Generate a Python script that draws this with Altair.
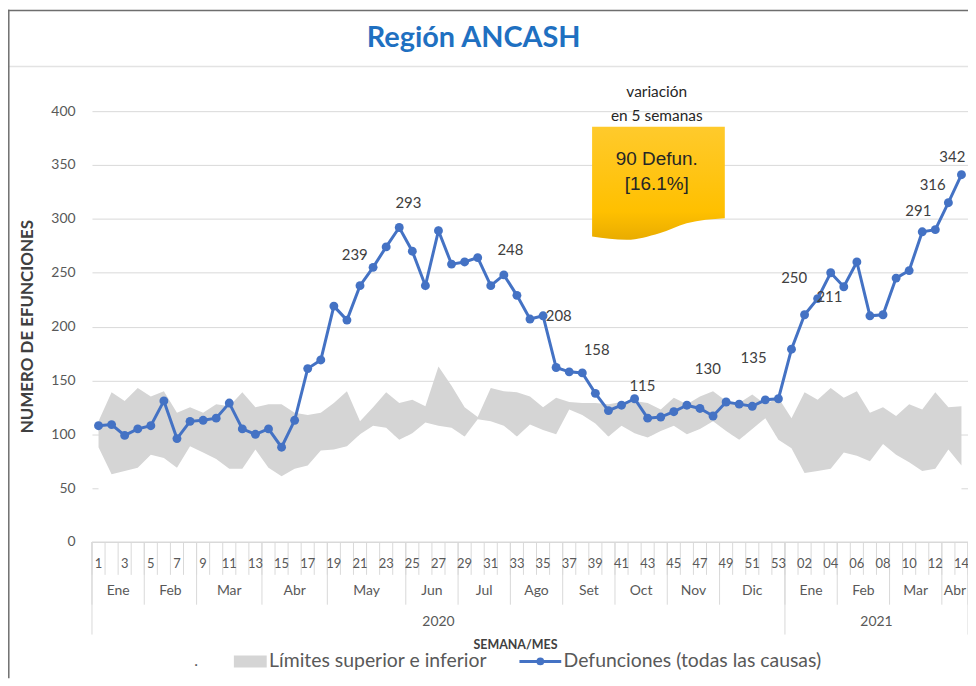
import altair as alt
import pandas as pd

# ---------------- data ----------------
weeks_2020 = list(range(1, 54))
weeks_2021 = list(range(1, 15))

deaths = [108, 109, 99, 105, 108, 131, 96, 112, 113, 115, 129, 105, 100, 105, 88, 113,
          161, 169, 219, 206, 238, 255, 274, 292, 270, 238, 289, 258, 260, 264, 238, 248,
          229, 207, 210, 162, 158, 157, 138, 122, 127, 133, 115, 116, 121, 127, 124, 117,
          130, 128, 126, 132, 133,
          179, 211, 226, 250, 237, 260, 210, 211, 245, 252, 288, 290, 315, 341]

upper = [112, 139, 131, 143, 135, 140, 120, 125, 120, 128, 126, 139, 125, 128, 128, 120,
         118, 120, 129, 140, 112, 125, 139, 129, 132, 126, 163, 145, 125, 116, 143, 140,
         139, 135, 125, 134, 130, 129, 129, 128, 130, 131, 129, 123, 134, 128, 135, 140,
         131, 129, 137, 128, 134,
         115, 139, 132, 143, 134, 140, 120, 125, 117, 128, 123, 139, 125, 126]

lower = [88, 63, 66, 69, 81, 78, 69, 89, 83, 77, 68, 68, 86, 69, 61, 68,
         71, 85, 86, 89, 100, 108, 106, 95, 101, 111, 108, 106, 98, 114, 112, 108,
         98, 109, 104, 100, 123, 118, 110, 98, 108, 101, 97, 103, 108, 100, 105, 112,
         103, 95, 105, 115, 95,
         87, 64, 66, 68, 83, 80, 75, 91, 81, 74, 66, 68, 86, 71]

month_names = ["Ene", "Feb", "Mar", "Abr", "May", "Jun", "Jul", "Ago", "Set", "Oct",
               "Nov", "Dic", "Ene", "Feb", "Mar", "Abr"]
month_weeks = [4, 4, 5, 5, 6, 4, 4, 4, 4, 4, 4, 5, 4, 4, 4, 2]
year_names = ["2020", "2021"]
year_weeks = [53, 14]

label_text = ["239", "293", "248", "208", "158", "115", "130", "135", "250", "211",
              "291", "316", "342"]
label_idx = [20.6, 24.7, 32.5, 36.2, 39.1, 42.6, 47.6, 51.1, 54.2, 56.9, 63.7, 64.8, 66.3]
label_val = [266.7, 314.8, 271.3, 210, 177.8, 145, 161, 171, 245, 227.8, 307.4, 331.5, 357.4]

callout_idx = [38.75, 41.4, 43.9, 45.98, 48.9]
callout_bottom = [283.6, 280.6, 286.7, 296, 300.6]
callout_top = 385.5
callout_lines = ["90 Defun.", "[16.1%]"]
callout_line_val = [355.5, 332]
callout_center_idx = 43.7

# ---------------- layout ----------------
W, H = 880.4, 433
BLUE = "#4472C4"
GRAY_TXT = "#595959"
DARK_TXT = "#404040"
FONT = "Lato"

n = len(deaths)
idx = list(range(1, n + 1))
week_lab = [str(w) for w in weeks_2020] + [f"{w:02d}" for w in weeks_2021]

df = pd.DataFrame({"idx": idx, "deaths": deaths, "upper": upper, "lower": lower,
                   "wk": week_lab})

xs = alt.Scale(domain=[0.5, n + 0.5], nice=False, zero=False)
ys = alt.Scale(domain=[0, 400], nice=False)
X = alt.X("idx:Q", scale=xs, axis=None)

base = alt.Chart(df)

white = base.mark_area(color="white", opacity=1).encode(
    x=X,
    y=alt.Y("lower:Q", scale=ys,
            axis=alt.Axis(values=list(range(0, 401, 50)), title="", domain=False,
                          ticks=False, labelPadding=17, labelFontSize=14,
                          labelColor=GRAY_TXT, labelFont=FONT, gridColor="#D9D9D9",
                          gridWidth=1)),
)
band = base.mark_area(color="#D5D5D5", opacity=1).encode(
    x=X, y=alt.Y("lower:Q", scale=ys), y2="upper:Q")
line = base.mark_line(color=BLUE, strokeWidth=3).encode(
    x=X, y=alt.Y("deaths:Q", scale=ys))
pts = base.mark_circle(color=BLUE, size=80, opacity=1).encode(
    x=X, y=alt.Y("deaths:Q", scale=ys))

labels_df = pd.DataFrame({"t": label_text, "i": label_idx, "v": label_val})
dlabels = alt.Chart(labels_df).mark_text(font=FONT, fontSize=15, color=DARK_TXT,
                                         baseline="middle").encode(
    x=alt.X("i:Q", scale=xs), y=alt.Y("v:Q", scale=ys), text="t:N")

# callout
cdf = pd.DataFrame({"i": callout_idx, "b": callout_bottom, "t": [callout_top] * len(callout_idx)})
grad = alt.Gradient(gradient="linear",
                    stops=[alt.GradientStop(color="#FFCA2C", offset=0),
                           alt.GradientStop(color="#FFC000", offset=0.75),
                           alt.GradientStop(color="#E9AC00", offset=1)],
                    x1=0, x2=0, y1=0, y2=1)
callout = alt.Chart(cdf).mark_area(color=grad, interpolate="monotone", opacity=1).encode(
    x=alt.X("i:Q", scale=xs), y=alt.Y("t:Q", scale=ys), y2="b:Q")
ctext_df = pd.DataFrame({"t": callout_lines, "v": callout_line_val,
                         "i": [callout_center_idx] * 2})
ctext = alt.Chart(ctext_df).mark_text(font="Liberation Sans", fontSize=19, color="#262626",
                                      baseline="middle").encode(
    x=alt.X("i:Q", scale=xs), y=alt.Y("v:Q", scale=ys), text="t:N")


def ptext(txt, px, py, size=14, color=DARK_TXT, weight="normal", align="center",
          font=FONT, angle=0):
    return alt.Chart(pd.DataFrame({"t": [txt]})).mark_text(
        font=font, fontSize=size, color=color, fontWeight=weight, align=align,
        baseline="middle", angle=angle).encode(
        x=alt.value(px), y=alt.value(py), text="t:N")


var1 = ptext("variación", 567.6, -19.5, size=15.5, color="#262626")
var2 = ptext("en 5 semanas", 567.6, 5, size=15.5, color="#262626")

# custom multi-level x axis
wk_df = df[df["idx"] % 2 == 1]
wk_text = alt.Chart(wk_df).mark_text(font=FONT, fontSize=13, color=GRAY_TXT,
                                     baseline="middle").encode(
    x=alt.X("idx:Q", scale=xs), y=alt.value(455), text="wk:N")

bounds = [k + 0.5 for k in range(0, n + 1)]
minor = alt.Chart(pd.DataFrame({"b": bounds})).mark_rule(color="#D9D9D9", strokeWidth=1).encode(
    x=alt.X("b:Q", scale=xs), y=alt.value(H), y2=alt.value(H + 33))

m_start, m_center, acc = [], [], 0
for w in month_weeks:
    m_start.append(acc + 0.5)
    m_center.append(acc + 0.5 + w / 2)
    acc += w
m_start.append(acc + 0.5)
mrules = alt.Chart(pd.DataFrame({"b": m_start})).mark_rule(color="#D9D9D9", strokeWidth=1).encode(
    x=alt.X("b:Q", scale=xs), y=alt.value(H), y2=alt.value(H + 63))
mtext = alt.Chart(pd.DataFrame({"m": month_names, "c": m_center})).mark_text(
    font=FONT, fontSize=14, color=GRAY_TXT, baseline="middle").encode(
    x=alt.X("c:Q", scale=xs), y=alt.value(482), text="m:N")

y_start, y_center, acc = [], [], 0
for w in year_weeks:
    y_start.append(acc + 0.5)
    y_center.append(acc + 0.5 + w / 2)
    acc += w
y_start.append(acc + 0.5)
yrules = alt.Chart(pd.DataFrame({"b": y_start})).mark_rule(color="#D9D9D9", strokeWidth=1).encode(
    x=alt.X("b:Q", scale=xs), y=alt.value(H), y2=alt.value(H + 93))
ytext = alt.Chart(pd.DataFrame({"m": year_names, "c": y_center})).mark_text(
    font=FONT, fontSize=14, color=GRAY_TXT, baseline="middle").encode(
    x=alt.X("c:Q", scale=xs), y=alt.value(513), text="m:N")

xline = alt.Chart(pd.DataFrame({"a": [0]})).mark_rule(color="#D9D9D9", strokeWidth=1).encode(
    x=alt.value(0), x2=alt.value(W), y=alt.value(H))

xtitle = ptext("SEMANA/MES", 425.6, 537, size=12.5, weight="bold")
ytitle = ptext("NUMERO DE EFUNCIONES", -64.4, 216.5, size=17, weight="bold", angle=270)
title = ptext("Región ANCASH", 383.6, -73, size=29, color="#1F70C1", weight="bold")

sep = alt.Chart(pd.DataFrame({"a": [0]})).mark_rule(color="#E3E3E3", strokeWidth=1.5).encode(
    x=alt.value(-84.4), x2=alt.value(W), y=alt.value(-45))
btop = alt.Chart(pd.DataFrame({"a": [0]})).mark_rule(color="#6E6E6E", strokeWidth=1.5).encode(
    x=alt.value(-84.4), x2=alt.value(W), y=alt.value(-101.2))
bleft = alt.Chart(pd.DataFrame({"a": [0]})).mark_rule(color="#6E6E6E", strokeWidth=1.5).encode(
    x=alt.value(-83.6), y=alt.value(-102), y2=alt.value(H + 137))

# legend
dot = ptext(".", 104.6, 553, size=16, color=GRAY_TXT)
swatch = alt.Chart(pd.DataFrame({"a": [0]})).mark_rect(color="#D5D5D5").encode(
    x=alt.value(142.6), x2=alt.value(175.6), y=alt.value(547), y2=alt.value(559))
leg1 = ptext("Límites superior e inferior", 178, 553, size=19.5, color=GRAY_TXT, align="left")
legline = alt.Chart(pd.DataFrame({"a": [0]})).mark_rule(color=BLUE, strokeWidth=3).encode(
    x=alt.value(429.6), x2=alt.value(471.6), y=alt.value(553))
legdot = alt.Chart(pd.DataFrame({"a": [0]})).mark_circle(color=BLUE, size=60, opacity=1).encode(
    x=alt.value(450.6), y=alt.value(553))
leg2 = ptext("Defunciones (todas las causas)", 474, 553, size=19.5, color=GRAY_TXT, align="left")

chart = alt.layer(
    white, band, line, pts, dlabels, callout, ctext, var1, var2,
    minor, mrules, yrules, xline, wk_text, mtext, ytext,
    xtitle, ytitle, title, sep, btop, bleft,
    dot, swatch, leg1, legline, legdot, leg2,
).properties(
    width=W, height=H,
    padding={"left": 84.4, "top": 102, "right": 0, "bottom": 137},
    autosize=alt.AutoSizeParams(type="none"),
    background="white",
).configure_view(strokeWidth=0)

chart.save("out.html", embed_options={"renderer": "svg", "actions": False})
